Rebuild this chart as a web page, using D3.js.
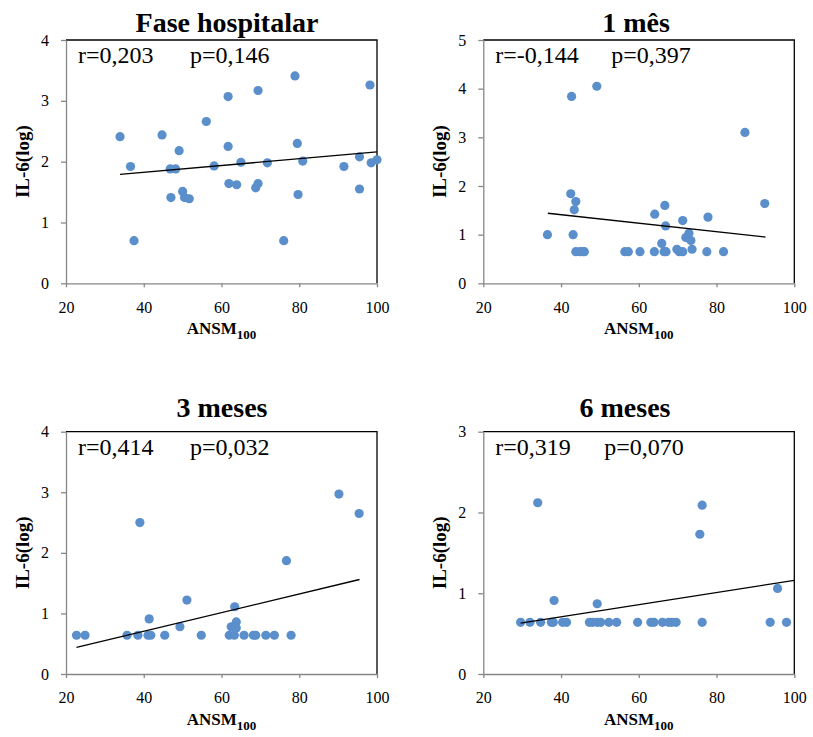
<!DOCTYPE html>
<html>
<head>
<meta charset="utf-8">
<script src="https://cdn.jsdelivr.net/npm/d3@7"></script>
<style>
  html, body { margin: 0; padding: 0; background: #ffffff; }
  svg { display: block; }
  text { font-family: "Liberation Serif", "Times New Roman", serif; fill: #000; }
</style>
</head>
<body>
<svg id="chart" width="813" height="737"></svg>
<script>
// ---------- DATA ----------
const titles = ["Fase hospitalar", "1 mês", "3 meses", "6 meses"];
const rLabels = ["r=0,203", "r=-0,144", "r=0,414", "r=0,319"];
const pLabels = ["p=0,146", "p=0,397", "p=0,032", "p=0,070"];
const xTicks = [20, 40, 60, 80, 100];
const yTicks1 = [0, 1, 2, 3, 4];
const yTicks2 = [0, 1, 2, 3, 4, 5];
const yTicks3 = [0, 1, 2, 3, 4];
const yTicks4 = [0, 1, 2, 3];
const xLabel = "ANSM";
const xLabelSub = "100";
const yLabel = "IL-6(log)";

// Fase hospitalar
const p1X = [33.9, 36.6, 37.5, 44.7, 49.1, 46.8, 48.2, 47.0, 50.0, 50.5, 51.7, 56.1, 58.1, 61.7, 61.7, 61.9, 63.9,
             65.0, 68.8, 69.4, 69.4, 71.8, 76.0, 78.9, 79.5, 79.7, 80.9, 91.5, 95.5, 95.5, 98.2, 98.5, 100.0];
const p1Y = [2.41, 1.92, 0.70, 2.44, 2.18, 1.88, 1.88, 1.41, 1.51, 1.41, 1.39, 2.66, 1.93, 3.07, 2.25, 1.64, 1.62,
             1.99, 1.57, 1.64, 3.17, 1.98, 0.70, 3.41, 2.30, 1.46, 2.01, 1.92, 2.08, 1.55, 3.26, 1.98, 2.03];
const trend1X = [33.9, 100];
const trend1Y = [1.79, 2.16];

// 1 mês
const p2X = [36.5, 42.7, 42.5, 43.8, 43.4, 43.1, 43.8, 44.9, 45.6, 46.0, 49.2, 56.4, 57.3, 60.3, 64.0, 64.1, 65.9,
             66.7, 66.9, 66.5, 67.0, 69.8, 70.4, 71.3, 71.3, 72.1, 72.9, 73.4, 73.7, 77.5, 77.8, 81.8, 87.3, 92.4];
const p2Y = [1.00, 3.84, 1.84, 1.68, 1.51, 1.00, 0.65, 0.65, 0.65, 0.65, 4.05, 0.65, 0.65, 0.65, 0.65, 1.42, 0.82,
             1.60, 1.18, 0.65, 0.65, 0.70, 0.65, 0.65, 1.29, 0.94, 1.03, 0.88, 0.70, 0.65, 1.36, 0.65, 3.10, 1.64];
const trend2X = [36.6, 92.6];
const trend2Y = [1.44, 0.95];

// 3 meses
const p3X = [22.7, 24.9, 35.7, 38.5, 39.0, 41.4, 41.1, 41.8, 45.4, 49.3, 51.1, 54.8, 62.0, 62.5, 63.4, 63.8, 63.8,
             63.3, 65.8, 68.2, 68.8, 71.4, 73.6, 76.7, 77.9, 90.2, 95.4];
const p3Y = [0.64, 0.64, 0.64, 0.64, 2.50, 0.91, 0.64, 0.64, 0.64, 0.78, 1.22, 0.64, 0.64, 0.78, 1.11, 0.86, 0.76,
             0.64, 0.64, 0.64, 0.64, 0.64, 0.64, 1.87, 0.64, 2.97, 2.65];
const trend3X = [22.7, 95.5];
const trend3Y = [0.44, 1.56];

// 6 meses
const p4X = [29.6, 32.0, 34.75, 37.5, 38.0, 40.4, 41.4, 47.3, 48.1, 49.3, 50.2, 52.3, 54.3, 59.7, 63.1, 63.9, 66.1,
             67.7, 68.5, 69.6, 76.3, 93.8, 98.0, 34.0, 38.2, 49.3, 75.7, 76.3, 95.7];
const p4Y = [0.64, 0.64, 0.64, 0.64, 0.64, 0.64, 0.64, 0.64, 0.64, 0.64, 0.64, 0.64, 0.64, 0.64, 0.64, 0.64, 0.64,
             0.64, 0.64, 0.64, 0.64, 0.64, 0.64, 2.12, 0.91, 0.87, 1.73, 2.09, 1.06];
const trend4X = [29.6, 100];
const trend4Y = [0.63, 1.16];

// ---------- LAYOUT ----------
const panels = [
  { xs: p1X, ys: p1Y, tx: trend1X, ty: trend1Y, yTicks: yTicks1, left: 66, right: 377, top: 40, bottom: 283.3, titleX: 227, titleY: 31.5, pOff: 124 },
  { xs: p2X, ys: p2Y, tx: trend2X, ty: trend2Y, yTicks: yTicks2, left: 483.3, right: 794.3, top: 40, bottom: 283.3, titleX: 636, titleY: 31.5, pOff: 128 },
  { xs: p3X, ys: p3Y, tx: trend3X, ty: trend3Y, yTicks: yTicks3, left: 66, right: 377, top: 431.7, bottom: 674, titleX: 222, titleY: 416.5, pOff: 124 },
  { xs: p4X, ys: p4Y, tx: trend4X, ty: trend4Y, yTicks: yTicks4, left: 483.3, right: 794.3, top: 431.7, bottom: 674, titleX: 625, titleY: 416.5, pOff: 121 }
];

const svg = d3.select("#chart");
const dotColor = "#5a8fcb";
const axisColor = "#878787";

panels.forEach((p, i) => {
  const x = d3.scaleLinear().domain([xTicks[0], xTicks[xTicks.length - 1]]).range([p.left, p.right]);
  const y = d3.scaleLinear().domain([0, d3.max(p.yTicks)]).range([p.bottom, p.top]);
  const g = svg.append("g");

  // plot area border: top and right black
  g.append("path")
    .attr("d", `M${p.left},${p.top}H${p.right}V${p.bottom}`)
    .attr("fill", "none").attr("stroke", "#000").attr("stroke-width", 1.3);

  // y axis
  const yAxis = d3.axisLeft(y).tickValues(p.yTicks).tickSize(5).tickSizeOuter(0).tickPadding(12)
    .tickFormat(d3.format("d"));
  const gy = g.append("g").attr("transform", `translate(${p.left},0)`).call(yAxis);
  gy.select(".domain").attr("stroke", axisColor).attr("stroke-width", 1.3);
  gy.selectAll(".tick line").attr("stroke", axisColor).attr("stroke-width", 1.3);
  gy.selectAll(".tick text").attr("font-size", 16).attr("fill", "#000");

  // x axis
  const xAxis = d3.axisBottom(x).tickValues(xTicks).tickSize(4).tickSizeOuter(0).tickPadding(14)
    .tickFormat(d3.format("d"));
  const gx = g.append("g").attr("transform", `translate(0,${p.bottom})`).call(xAxis);
  gx.select(".domain").attr("stroke", axisColor).attr("stroke-width", 1.3);
  gx.selectAll(".tick line").attr("stroke", axisColor).attr("stroke-width", 1.3);
  gx.selectAll(".tick text").attr("font-size", 16).attr("fill", "#000");

  // points
  g.append("g").selectAll("circle")
    .data(d3.zip(p.xs, p.ys))
    .join("circle")
    .attr("cx", d => x(d[0]))
    .attr("cy", d => y(d[1]))
    .attr("r", 4.6)
    .attr("fill", dotColor);

  // trend line
  const line = d3.line().x(d => x(d[0])).y(d => y(d[1]));
  g.append("path")
    .datum(d3.zip(p.tx, p.ty))
    .attr("d", line)
    .attr("fill", "none").attr("stroke", "#000").attr("stroke-width", 1.3);

  // title
  g.append("text")
    .attr("x", p.titleX).attr("y", p.titleY)
    .attr("text-anchor", "middle")
    .attr("font-size", 28).attr("font-weight", "bold")
    .text(titles[i]);

  // stats text
  g.append("text").attr("x", p.left + 12).attr("y", p.top + 23.3)
    .attr("font-size", 24).text(rLabels[i]);
  g.append("text").attr("x", p.left + p.pOff).attr("y", p.top + 23.3)
    .attr("font-size", 24).text(pLabels[i]);

  // y axis title
  const cy = (p.top + p.bottom) / 2;
  g.append("text")
    .attr("transform", `translate(${p.left - 37},${cy}) rotate(-90)`)
    .attr("text-anchor", "middle")
    .attr("font-size", 19).attr("font-weight", "bold")
    .text(yLabel);

  // x axis title with subscript
  const xt = g.append("text")
    .attr("x", (p.left + p.right) / 2).attr("y", p.bottom + 51)
    .attr("text-anchor", "middle")
    .attr("font-size", 17).attr("font-weight", "bold");
  xt.append("tspan").text(xLabel);
  xt.append("tspan").attr("font-size", 13).attr("dy", 5).text(xLabelSub);
});
</script>
</body>
</html>
